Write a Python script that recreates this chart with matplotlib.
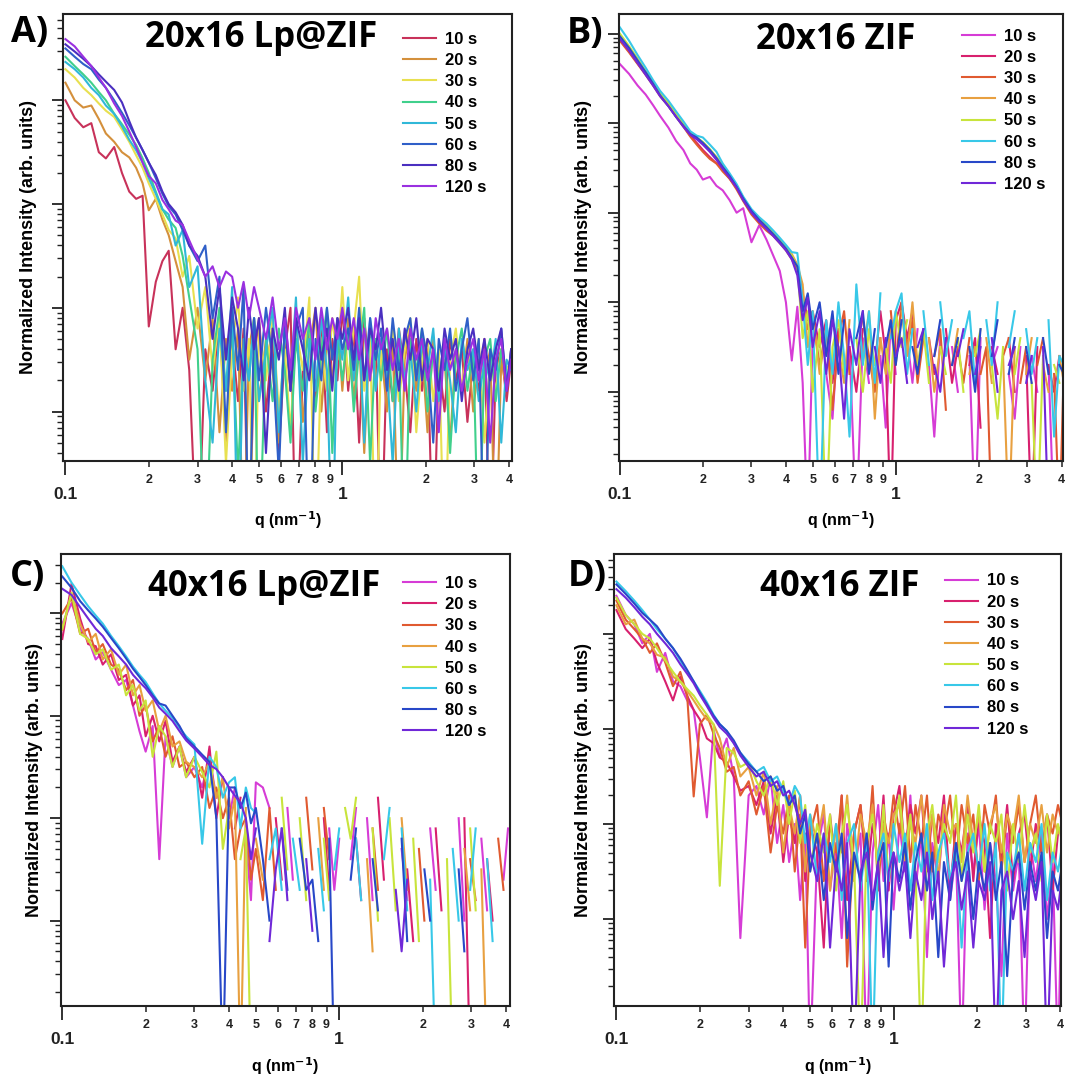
import numpy as np
import matplotlib
matplotlib.use("Agg")
import matplotlib.pyplot as plt
from matplotlib.ticker import FixedLocator, LogLocator, NullFormatter, FuncFormatter

plt.rcParams['font.family'] = ['Liberation Sans', 'DejaVu Sans']
plt.rcParams['font.weight'] = 'bold'
plt.rcParams['mathtext.default'] = 'bf'

# q grid (nm^-1)
q = [0.100, 0.108, 0.116, 0.124, 0.132, 0.140, 0.150, 0.160, 0.170, 0.180,
     0.190, 0.200, 0.212, 0.224, 0.236, 0.250, 0.265, 0.280, 0.300,
     0.32, 0.34, 0.36, 0.38, 0.40, 0.42, 0.44, 0.46, 0.48, 0.50, 0.53, 0.56,
     0.59, 0.62, 0.65, 0.68, 0.72, 0.76, 0.80, 0.84, 0.88, 0.92, 0.96, 1.00,
     1.05, 1.10, 1.15, 1.20, 1.26, 1.32, 1.38, 1.45, 1.52, 1.60, 1.68, 1.76,
     1.85, 1.94, 2.03, 2.13, 2.23, 2.34, 2.45, 2.57, 2.70, 2.83, 2.97, 3.11,
     3.26, 3.42, 3.58, 3.75, 3.92, 4.07]

times = ["10 s", "20 s", "30 s", "40 s", "50 s", "60 s", "80 s", "120 s"]

# log10 of normalized intensity, None = no point
# A) 20x16 Lp@ZIF
a10 = [3.00, 2.83, 2.74, 2.78, 2.50, 2.44, 2.55, 2.30, 2.12, 2.05, 2.08, 0.82, 1.25, 1.45, 1.55, 0.60, 1.00, 0.40, -1.5,
       0.6, 0.2, 0.9, -0.3, 0.7, 0.1, 0.8, -1.5, 0.5, 0.9, 0.0, 0.7, -0.4, 0.6, 1.0, -1.5, 0.4, 0.8, 0.1, 0.9, -0.2, 0.7, 0.3, 1.0,
       0.2, 0.8, -0.3, 0.9, 0.3, 0.7, -1.5, 0.6, 0.1, 0.8, 0.4, -0.2, 0.7, 0.2, 0.6, -1.5, 0.5, 0.0, 0.7, 0.3, 0.6, -0.1, 0.5, 0.2, 0.7, -1.5, 0.4, 0.6, 0.1, 0.5]
a20 = [3.17, 3.00, 2.93, 2.95, 2.82, 2.68, 2.60, 2.50, 2.45, 2.35, 2.20, 1.94, 2.05, 1.85, 1.70, 1.45, 1.20, 0.50, 1.00,
       0.3, 0.9, -0.2, 0.7, 0.2, 0.8, -1.5, 0.6, 0.9, 0.1, 0.7, 0.4, -0.3, 0.8, 0.2, 0.9, -0.1, 0.6, 1.0, 0.0, 0.7, 0.3, 0.9, 0.2,
       0.9, 0.1, 0.7, -0.4, 0.8, 0.3, 0.6, 0.0, 0.7, -1.5, 0.5, 0.8, 0.2, 0.6, -0.2, 0.7, 0.3, 0.5, -0.3, 0.6, 0.2, 0.7, 0.0, 0.5, 0.3, 0.6, -1.5, 0.5, 0.2, 0.6]
a30 = [3.30, 3.22, 3.12, 3.05, 2.97, 2.90, 2.84, 2.72, 2.60, 2.47, 2.35, 2.20, 2.05, 1.90, 1.75, 1.67, 1.30, 1.50, 0.80,
       1.2, 0.4, 0.9, -0.5, 0.6, 1.1, 0.2, 0.7, -1.5, 0.8, 0.3, 0.9, 0.0, 0.6, -0.2, 0.8, 0.4, 1.1, -1.5, 0.6, 0.2, 0.9, 0.5, 1.2,
       0.3, 0.8, 1.3, 0.2, 0.7, -1.5, 0.6, 0.3, 0.8, 0.1, 0.6, 0.9, -0.2, 0.5, 0.7, 0.1, 0.6, -1.5, 0.5, 0.8, 0.2, 0.6, 0.3, 0.7, -0.3, 0.5, 0.2, 0.6, 0.4, 0.5]
a40 = [3.42, 3.33, 3.25, 3.17, 3.08, 3.00, 2.87, 2.77, 2.67, 2.57, 2.44, 2.30, 2.12, 1.95, 1.85, 1.77, 1.50, 1.10, 0.60,
       -1.5, 0.5, 1.0, 0.2, 0.8, -0.6, 0.6, 0.3, 0.9, -1.5, 0.7, 0.1, 0.8, 0.4, -0.3, 0.7, 0.2, 0.9, 0.0, 0.6, 1.0, -0.4, 0.7, 0.3,
       0.8, 0.0, 0.6, 1.0, -0.5, 0.7, 0.3, 0.8, 0.1, 0.6, -1.5, 0.7, 0.4, 0.8, 0.0, 0.6, 0.3, 0.7, -0.4, 0.5, 0.8, 0.2, 0.6, -1.5, 0.5, 0.7, 0.1, 0.6, 0.3, 0.5]
a50 = [3.37, 3.30, 3.22, 3.12, 3.05, 2.95, 2.87, 2.75, 2.62, 2.52, 2.40, 2.25, 2.10, 1.95, 1.90, 1.60, 1.75, 1.20, 1.40,
       0.3, -0.3, 0.8, 0.2, 1.2, -1.5, 0.7, 0.3, 0.9, 0.1, 0.6, 1.0, -0.2, 0.8, 0.3, 1.1, -0.5, 0.7, 0.2, 0.9, 0.4, -1.5, 0.8, 0.5,
       1.1, 0.3, 0.8, -0.3, 0.9, 0.2, 0.7, 0.4, -0.5, 0.8, 0.3, 0.6, 0.0, 0.7, 0.4, 0.8, 0.1, 0.6, 0.3, -0.2, 0.7, 0.4, 0.6, 0.1, 0.5, 0.3, 0.7, -0.3, 0.5, 0.4]
a60 = [3.50, 3.42, 3.35, 3.30, 3.20, 3.12, 3.00, 2.88, 2.76, 2.64, 2.52, 2.40, 2.25, 2.10, 1.98, 1.90, 1.75, 1.60, 1.45,
       1.6, 0.9, 1.3, -0.2, 1.0, 0.4, 1.2, -1.5, 0.9, 0.3, 1.0, 0.5, -0.6, 0.9, 0.2, 0.8, 1.0, -1.5, 0.7, 0.3, 1.0, 0.5, 0.9, 0.6,
       0.8, 0.4, 1.0, 0.3, 0.9, 0.5, 0.8, 0.2, 0.9, 0.4, 0.7, 0.9, 0.3, 0.8, 0.5, -0.3, 0.7, 0.4, 0.8, 0.2, 0.6, 0.9, 0.3, 0.7, -1.5, 0.6, 0.4, 0.8, 0.2, 0.6]
a80 = [3.54, 3.47, 3.40, 3.33, 3.25, 3.18, 3.10, 2.98, 2.80, 2.64, 2.52, 2.40, 2.28, 2.12, 2.00, 1.92, 1.80, 1.60, 1.50,
       1.3, 0.7, 1.2, 0.5, 1.1, 0.8, 0.3, 1.0, 0.6, 0.9, -0.4, 0.8, 0.5, 1.0, 0.2, 0.9, 0.6, 0.3, 1.0, 0.5, 0.8, 0.2, 0.9, 0.7,
       1.0, 0.5, 0.9, 0.3, 0.8, 0.6, 1.0, 0.4, 0.7, 0.2, 0.8, 0.5, 0.9, 0.3, 0.7, 0.6, 0.2, 0.8, 0.5, 0.7, 0.1, 0.6, 0.8, 0.4, 0.7, 0.3, 0.6, 0.8, 0.2, 0.6]
a120 = [3.59, 3.52, 3.42, 3.33, 3.22, 3.12, 2.97, 2.85, 2.70, 2.55, 2.40, 2.27, 2.20, 2.04, 1.95, 1.84, 1.80, 1.65, 1.47,
        1.3, 1.4, 1.2, 1.35, 1.3, 1.0, 1.25, 0.9, 1.2, 1.0, 0.7, 1.1, 0.6, 0.9, 0.4, 1.0, 0.7, 0.9, 0.5, 1.0, 0.6, 0.9, 0.7, 1.0,
        0.6, 0.9, 0.5, 0.8, 0.3, 0.9, 0.6, 0.8, 0.4, 0.7, 0.2, 0.8, 0.5, 0.7, 0.3, 0.6, -0.2, 0.7, 0.4, 0.6, 0.2, 0.5, 0.7, 0.3, 0.6, -0.3, 0.5, 0.7, 0.2, 0.5]

# B) 20x16 ZIF
b10 = [3.66, 3.55, 3.42, 3.32, 3.20, 3.08, 2.95, 2.80, 2.70, 2.55, 2.48, 2.37, 2.40, 2.30, 2.25, 2.14, 2.00, 2.05, 1.67,
       1.86, 1.70, 1.52, 1.35, 1.00, 0.35, 0.95, 0.10, -1.5, 0.6, None, 0.2, -0.3, 0.7, None, 0.5, -1.5, 0.6, 0.1, None, 0.4, -0.4, 0.8, 0.2,
       None, 0.6, 0.1, 0.7, None, 0.3, -0.5, 0.6, None, 0.5, 0.0, None, 0.4, -1.5, 0.6, None, 0.3, 0.5, None, 0.2, -0.3, 0.5, None, 0.4, 0.0, None, 0.3, -1.5, None, 0.3]
b20 = [3.93, 3.80, 3.67, 3.55, 3.43, 3.31, 3.20, 3.08, 2.97, 2.86, 2.78, 2.70, 2.62, 2.55, 2.48, 2.38, 2.28, 2.15, 2.00,
       1.90, 1.82, 1.76, 1.68, 1.60, 1.50, 1.40, 1.10, 0.80, 0.90, 0.5, 0.8, 0.1, 0.7, None, 0.5, 0.0, 0.7, None, 0.3, 0.9, 0.4, -1.5, 0.8,
       1.0, 0.6, 0.9, 0.2, None, 0.6, 0.2, None, 0.7, 0.1, 0.5, None, 0.3, 0.6, -0.4, None, 0.5, 0.2, None, 0.6, 0.0, None, 0.4, -1.5, 0.5, None, 0.3, 0.0, 0.4, None]
b30 = [3.92, 3.79, 3.66, 3.54, 3.42, 3.30, 3.19, 3.07, 2.96, 2.85, 2.76, 2.68, 2.60, 2.55, 2.46, 2.38, 2.26, 2.13, 1.98,
       1.88, 1.80, 1.74, 1.66, 1.58, 1.48, 1.36, 1.00, 0.70, 0.85, 0.3, 0.7, -0.2, 0.6, 0.9, 0.2, None, 0.8, 0.4, 0.0, 0.6, None, 0.9, 0.3,
       1.0, 0.5, 0.8, 0.1, 0.6, None, 0.4, 0.7, -0.2, None, 0.5, 0.1, 0.6, None, 0.2, 0.5, -1.5, None, 0.4, 0.6, None, 0.1, 0.5, None, 0.3, 0.6, None, 0.2, -1.5, 0.3]
b40 = [3.98, 3.84, 3.70, 3.57, 3.45, 3.33, 3.22, 3.10, 2.99, 2.88, 2.83, 2.78, 2.70, 2.62, 2.52, 2.42, 2.30, 2.17, 2.02,
       1.92, 1.85, 1.78, 1.70, 1.62, 1.54, 1.42, 1.20, 0.50, 0.90, 0.2, 0.7, None, 0.5, 0.1, 0.8, None, 0.4, 0.9, -0.3, 0.6, 0.2, 0.8, None,
       0.9, 0.4, 1.0, 0.3, None, 0.6, 0.0, 0.5, None, 0.3, 0.7, None, 0.2, 0.5, None, 0.6, 0.1, None, 0.4, -1.5, 0.5, None, 0.2, 0.6, None, 0.3, 0.0, None, 0.4, 0.1]
b50 = [4.00, 3.86, 3.72, 3.58, 3.46, 3.34, 3.22, 3.10, 2.99, 2.88, 2.84, 2.79, 2.71, 2.62, 2.52, 2.42, 2.30, 2.16, 2.02,
       1.93, 1.86, 1.78, 1.70, 1.62, 1.52, 1.40, 0.60, 0.90, 0.0, 0.7, -1.5, 0.5, 0.8, 0.2, None, 0.6, 0.0, 0.7, 0.3, None, 0.5, 0.1, 0.9,
       0.5, 0.8, None, 0.3, 0.7, 0.1, None, 0.5, 0.2, None, 0.6, 0.0, None, 0.4, 0.7, None, 0.3, -0.3, 0.5, None, 0.2, 0.6, None, 0.1, -1.5, 0.4, None, 0.3, 0.1, None]
b60 = [4.07, 3.92, 3.76, 3.62, 3.48, 3.36, 3.25, 3.13, 3.02, 2.91, 2.86, 2.84, 2.76, 2.68, 2.55, 2.44, 2.32, 2.18, 2.04,
       1.95, 1.88, 1.80, 1.72, 1.64, 1.56, 1.55, 1.00, 0.30, 0.90, -1.5, 0.8, 0.2, 1.0, 0.4, -0.5, 1.2, 0.3, 0.9, 0.1, 1.1, None, 0.6, 0.9,
       1.1, 0.2, 0.7, None, 0.9, 0.3, None, 1.0, 0.4, 0.8, None, 0.6, 0.9, 0.1, None, 0.8, 0.3, 1.0, None, 0.5, 0.9, None, 0.7, 0.2, 0.6, None, 0.8, -0.5, 0.4, 0.3]
b80 = [3.97, 3.84, 3.70, 3.57, 3.44, 3.31, 3.19, 3.07, 2.97, 2.88, 2.84, 2.78, 2.70, 2.61, 2.51, 2.41, 2.29, 2.16, 2.02,
       1.92, 1.84, 1.76, 1.68, 1.60, 1.50, 1.40, 0.90, 1.10, 0.70, 1.0, 0.4, 0.9, 0.2, 0.8, None, 0.6, 0.9, 0.2, 0.7, None, 0.5, 0.8, 0.3,
       0.8, None, 0.5, 0.2, 0.7, None, 0.4, 0.8, None, 0.3, 0.6, None, 0.5, 0.0, 0.7, None, 0.4, 0.8, None, 0.2, 0.6, None, 0.5, 0.1, None, 0.6, 0.2, None, 0.3, 0.2]
b120 = [3.94, 3.81, 3.67, 3.54, 3.42, 3.30, 3.19, 3.07, 2.96, 2.87, 2.82, 2.76, 2.68, 2.59, 2.49, 2.39, 2.28, 2.14, 2.00,
        1.90, 1.82, 1.74, 1.66, 1.58, 1.48, 1.30, 0.80, 1.05, 0.50, 0.9, 0.2, 0.8, 0.5, -0.3, 0.7, 0.3, 0.9, None, 0.5, 0.1, 0.6, None, 0.4,
        0.6, 0.1, None, 0.5, 0.7, None, 0.3, 0.0, 0.6, None, 0.4, 0.7, None, 0.2, 0.5, None, 0.6, 0.0, None, 0.3, 0.5, None, 0.1, 0.4, None, 0.5, -1.5, None, 0.3, None]

# C) 40x16 Lp@ZIF
c10 = [2.90, 3.10, 2.85, 2.75, 2.55, 2.62, 2.45, 2.30, 2.35, 2.10, 1.85, 1.65, 1.90, 0.60, 1.80, 1.50, 1.70, 1.40, 1.50,
       1.30, 1.60, 1.20, None, 1.00, 1.30, None, 0.80, 0.2, 1.35, 1.30, 1.10, None, None, 1.1, 0.4, None, None, None, None, None, 0.9, 0.3, 0.8,
       None, 0.6, 1.1, None, 1.0, 0.2, None, None, None, None, 0.7, 0.2, None, None, None, 0.9, 0.3, None, None, None, 1.0, 0.0, None, None, 0.8, 0.1, None, None, 0.4, 0.9]
c20 = [2.75, 3.29, 2.95, 2.70, 2.68, 2.50, 2.60, 2.35, 2.40, 2.10, 2.20, 1.80, 2.00, 1.75, 1.95, 1.55, 1.70, 1.45, 1.60,
       1.20, 1.70, 1.00, 1.40, None, 0.9, 1.2, None, None, 0.5, None, None, 1.0, 0.4, None, None, None, None, 0.7, None, 1.0, 0.3, None, None,
       None, None, 0.8, 0.2, None, None, 1.2, 0.4, None, None, None, 0.5, -0.2, None, None, None, 0.9, 0.1, None, None, None, 1.0, -1.5, None, None, 0.6, 0.0, None, None, None]
c30 = [3.00, 3.15, 2.80, 2.85, 2.62, 2.70, 2.50, 2.45, 2.25, 2.35, 2.00, 2.10, 1.75, 1.90, 1.60, 1.80, 1.50, 1.55, 1.40,
       1.50, 1.10, 1.30, 1.00, 1.20, 0.60, 0.90, 1.00, 0.4, 0.7, 0.2, 1.1, 0.3, None, None, None, None, 1.2, 0.5, None, 1.1, 0.6, None, None,
       None, None, None, None, None, 0.9, 0.3, None, None, None, None, None, None, 0.7, 0.0, None, None, None, None, None, None, None, 0.6, 0.2, None, None, None, 0.8, 0.3, None]
c40 = [2.84, 3.20, 2.90, 2.72, 2.80, 2.55, 2.65, 2.40, 2.50, 2.20, 2.30, 2.05, 2.15, 1.85, 2.00, 1.70, 1.75, 1.55, 1.50,
       1.40, 1.55, 1.20, 1.40, 0.90, 1.20, -1.5, 1.10, None, 0.8, 0.4, None, None, 0.7, None, None, None, None, None, 1.0, 0.3, None, None, None,
       None, None, None, None, 0.6, -0.3, None, None, None, None, 1.0, 0.3, None, None, None, None, None, None, None, None, None, 0.7, 0.1, None, 0.5, -1.5, None, None, None, None]
c50 = [2.85, 3.20, 2.80, 2.75, 2.60, 2.65, 2.45, 2.50, 2.20, 2.30, 2.05, 2.15, 1.60, 1.90, 1.80, 1.50, 1.70, 1.40, 1.60,
       1.45, 1.30, 1.65, 0.70, 1.10, None, 0.6, 0.9, -1.5, None, None, None, None, 1.2, 0.5, None, 1.0, 0.2, None, None, 0.8, 0.2, None, None,
       1.1, 0.8, 1.2, None, None, 0.9, 0.0, None, 1.0, 0.1, None, None, 0.8, -0.2, None, None, None, None, 0.6, -1.5, None, None, 0.9, 0.1, None, None, None, None, None, None]
c60 = [3.46, 3.30, 3.18, 3.07, 2.98, 2.90, 2.78, 2.68, 2.58, 2.48, 2.40, 2.33, 2.22, 2.12, 2.05, 1.98, 1.88, 1.80, 1.72,
       0.75, 1.60, 1.50, 1.20, 1.35, 1.40, 0.90, 1.30, 1.10, 1.05, None, 0.6, 0.9, 0.3, None, 0.8, 0.3, None, None, 0.7, 0.1, None, 0.5, 0.9,
       None, None, 0.8, 0.2, None, None, None, 0.6, 1.1, None, 0.9, 0.1, None, None, None, 0.4, -1.5, None, None, 0.7, 0.0, None, 0.3, 0.9, None, 0.6, -0.2, None, None, None]
c80 = [3.36, 3.25, 3.12, 3.03, 2.95, 2.87, 2.76, 2.66, 2.56, 2.46, 2.38, 2.30, 2.20, 2.12, 2.10, 2.00, 1.90, 1.78, 1.70,
       1.62, 1.55, 1.00, -1.5, 1.30, 1.30, 1.10, 1.25, 0.95, 1.10, 0.6, 0.0, None, 0.9, 0.3, None, 0.8, 0.3, 0.4, -0.2, None, 0.8, -1.5, None,
       None, 0.4, 0.9, None, None, 0.6, 0.1, None, None, None, 0.8, -0.2, None, None, 0.5, 0.0, None, None, None, None, 0.5, -0.3, None, None, None, None, None, None, None, None]
c120 = [3.24, 3.18, 3.06, 2.95, 2.85, 2.78, 2.66, 2.58, 2.50, 2.40, 2.33, 2.27, 2.18, 2.08, 2.02, 1.95, 1.85, 1.76, 1.68,
        1.60, 1.52, 1.48, 1.40, 1.30, 1.22, 1.15, 1.00, 0.60, 0.9, None, -0.2, 0.5, 0.9, 0.2, None, None, 0.6, -0.1, None, None, None, None, None,
        None, None, None, None, None, None, None, None, None, 0.3, -0.3, 0.4, None, None, None, None, None, None, None, None, None, None, None, None, None, None, None, None, None, None]

# D) 40x16 ZIF
d10 = [3.40, 3.20, 3.10, 2.90, 3.00, 2.60, 2.80, 2.50, 2.45, 2.30, 2.20, 1.70, 1.07, 2.00, 1.70, 1.90, 1.50, -0.20, 1.30,
       1.40, 1.10, 1.50, 0.8, 1.2, 0.6, 1.0, 0.2, 0.9, -1.5, 0.7, 1.1, 0.3, 0.8, -0.2, 1.0, 0.5, 0.9, -1.5, 0.7, 1.2, 0.4, 0.9, 0.1,
       1.0, 0.5, 1.3, 0.3, 0.9, -0.4, 0.8, 0.4, 1.1, 0.2, 0.7, -1.5, 0.9, 0.5, 1.0, 0.1, 0.8, 0.4, -0.6, 0.9, 0.3, 0.7, -1.5, 0.8, 0.4, 0.9, 0.0, 0.6, -1.5, 0.7]
d20 = [3.25, 3.05, 2.95, 2.85, 2.95, 2.70, 2.50, 2.30, 2.55, 2.35, 2.20, 2.10, 1.90, 1.85, 1.70, 1.65, 1.50, 1.35, 1.40,
       1.20, 1.45, 0.90, 1.30, 0.6, 1.1, 0.8, 1.3, 0.4, 1.0, 0.7, -0.3, 1.1, 0.5, 1.3, 0.2, 0.9, 1.2, 0.4, 1.0, 0.6, 1.3, 0.3, 1.1,
       1.4, 0.7, 1.2, 0.9, 1.3, 0.5, 1.1, 0.8, 1.3, 0.3, 1.0, 0.7, 1.2, 0.4, 1.1, 0.8, -0.2, 1.0, 0.6, 1.2, 0.4, 0.9, 1.1, 0.5, 1.0, 0.7, 1.1, 0.3, 0.9, 1.0]
d30 = [3.35, 3.15, 3.05, 2.95, 2.80, 2.90, 2.70, 2.45, 2.60, 2.35, 1.29, 2.05, 2.15, 1.95, 1.80, 1.55, 1.60, 1.30, 1.45,
       1.10, 1.40, 0.70, 1.20, 0.90, 1.30, 0.5, 1.1, -0.3, 0.9, 1.2, 0.4, 1.0, 0.7, 1.3, -0.5, 0.9, 1.2, 0.6, 1.4, 0.3, 1.1, 0.8, 1.3,
       0.9, 1.4, 0.6, 1.2, 0.8, 1.3, 0.5, 1.1, 0.9, 1.3, 0.6, 1.2, 0.8, 1.1, 0.4, 1.2, 0.9, 1.3, 0.5, 1.1, 0.8, 1.2, 0.6, 1.0, 1.3, 0.7, 1.1, 0.9, 1.2, 1.0]
d40 = [3.30, 3.10, 3.15, 2.95, 2.90, 2.78, 2.75, 2.55, 2.50, 2.40, 2.30, 2.20, 2.10, 2.05, 1.90, 1.60, 1.80, 1.50, 1.60,
       1.30, 1.55, 1.00, 1.40, 0.70, 1.20, 0.9, 1.3, 0.5, 1.1, 0.8, 1.2, 0.3, 1.0, 0.7, 1.3, 0.4, 1.1, 0.8, 1.2, 0.5, 1.0, 0.8, 1.1,
       1.2, 0.6, 1.0, 0.8, 1.3, 0.7, 1.1, 0.4, 1.2, 0.9, 1.0, 0.6, 1.3, 0.8, 1.1, 0.5, 1.0, 1.2, 0.7, 1.1, 0.9, 1.3, 0.6, 1.0, 0.8, 1.2, 0.7, 1.1, 0.9, 1.0]
d50 = [3.38, 3.20, 3.10, 3.00, 2.95, 2.85, 2.72, 2.60, 2.50, 2.42, 2.35, 2.25, 2.15, 2.05, 0.35, 1.80, 1.75, 1.60, 1.65,
       1.45, 1.30, 1.50, 1.20, 1.45, 1.00, 1.35, 0.8, 1.2, 0.5, 1.0, 0.7, 1.1, 0.3, 0.9, 1.2, 0.6, -1.5, 0.8, 1.1, 0.5, 1.2, 0.4, 0.9,
       1.3, 0.7, 1.1, 0.5, -1.5, 0.9, 1.2, 0.6, 1.0, 0.8, 1.3, 0.4, 1.1, 0.7, 1.2, 0.5, 1.0, 0.8, 1.1, 0.3, 1.0, 0.6, 1.2, 0.7, 0.9, 0.4, 1.1, 0.6, 1.0, 0.8]
d60 = [3.55, 3.45, 3.35, 3.25, 3.15, 3.05, 2.95, 2.85, 2.72, 2.60, 2.50, 2.40, 2.28, 2.15, 2.05, 1.98, 1.85, 1.75, 1.65,
       1.55, 1.60, 1.45, 1.50, 1.35, 1.20, 1.40, 1.30, 0.8, 1.1, 0.4, 0.9, 0.6, 1.0, 0.2, 0.8, 1.0, 0.3, 0.9, -1.5, 0.7, 0.9, 0.4, 1.0,
       0.6, 0.9, 0.3, 0.8, 0.5, 1.0, 0.2, 0.7, 0.9, 0.4, 0.8, -0.3, 0.7, 0.9, 0.5, 1.0, 0.3, 0.8, -1.5, 0.7, 0.5, 0.9, 0.3, 0.8, 0.6, 1.0, 0.2, 0.7, 0.5, 0.8]
d80 = [3.52, 3.42, 3.32, 3.22, 3.15, 3.08, 2.95, 2.85, 2.74, 2.62, 2.50, 2.38, 2.26, 2.14, 2.05, 1.98, 1.88, 1.75, 1.63,
       1.55, 1.45, 1.50, 1.35, 1.40, 1.20, 1.30, 0.90, 1.10, 0.5, 0.9, 0.2, 0.8, 0.5, 0.9, -0.2, 0.7, 0.4, 0.9, 0.1, 0.6, 0.8, -0.5, 0.7,
       0.4, 0.8, 0.1, 0.6, 0.9, 0.3, 0.7, -0.4, 0.6, 0.2, 0.8, 0.4, 0.7, 0.0, 0.6, 0.3, 0.8, 0.2, 0.6, -0.6, 0.5, 0.7, 0.1, 0.6, 0.3, 0.7, -0.2, 0.5, 0.3, 0.6]
d120 = [3.47, 3.38, 3.28, 3.18, 3.10, 3.00, 2.90, 2.80, 2.68, 2.58, 2.48, 2.36, 2.24, 2.12, 2.02, 1.95, 1.85, 1.72, 1.60,
        1.50, 1.55, 1.40, 1.45, 1.30, 1.35, 1.20, 1.00, 1.15, 0.70, 0.40, 0.9, -0.3, 0.6, 0.3, 0.8, -1.5, 0.5, 0.7, 0.2, 0.6, -0.4, 0.5, 0.7,
        0.3, 0.6, -0.2, 0.5, 0.2, 0.7, 0.0, 0.5, -0.5, 0.4, 0.6, 0.1, 0.5, -0.3, 0.4, 0.2, 0.6, -1.5, 0.3, 0.5, 0.0, 0.4, -0.4, 0.5, 0.2, 0.6, -1.5, 0.3, 0.1, 0.5]

colors_a = ['#c8325a', '#d4903c', '#e8e050', '#40d08c', '#30b8d8', '#2f5fc8', '#4a2fc0', '#9a30e0']
colors_zif = ['#d63cd6', '#d8206e', '#e05a30', '#e8a040', '#c8e43c', '#38c8e8', '#2848c8', '#7028d8']

W, H = 1065, 1076
fig = plt.figure(figsize=(W / 100, H / 100), dpi=100)

# letter, title, series, colors, axes box in pixels (l, t, r, b), ylim exponents, xlim,
# title pos, legend anchor, letter pos (px), ylabel x, xlabel y
panels = [
    ("A)", "20x16 Lp@ZIF", [a10, a20, a30, a40, a50, a60, a80, a120], colors_a,
     (63, 13.5, 512, 461), (-0.477, 3.837), (0.098, 4.1), (0.441, 0.945), (0.757, 0.959), (30, 33), -0.059, -0.108),
    ("B)", "20x16 ZIF", [b10, b20, b30, b40, b50, b60, b80, b120], colors_zif,
     (618.5, 13.5, 1063, 461), (-0.772, 4.224), (0.0989, 4.04), (0.489, 0.941), (0.773, 0.966), (585, 34), -0.06, -0.108),
    ("C)", "40x16 Lp@ZIF", [c10, c20, c30, c40, c50, c60, c80, c120], colors_zif,
     (60.6, 554, 509.5, 1005.6), (-0.83, 3.58), (0.0986, 4.12), (0.453, 0.927), (0.763, 0.951), (28, 577), -0.039, -0.111),
    ("D)", "40x16 ZIF", [d10, d20, d30, d40, d50, d60, d80, d120], colors_zif,
     (614, 554, 1061, 1005.6), (-0.91, 3.84), (0.098, 4.02), (0.506, 0.927), (0.740, 0.957), (587, 577), -0.049, -0.11),
]

major_x = [0.1, 1]
minor_x = [0.2, 0.3, 0.4, 0.5, 0.6, 0.7, 0.8, 0.9, 2, 3, 4]

for letter, title, series, cols, box, ylim, xlim, tpos, lpos, letpos, ylx, xly in panels:
    l, t, r, b = box
    ax = fig.add_axes([l / W, 1 - b / H, (r - l) / W, (b - t) / H])
    for vals, c, lab in zip(series, cols, times):
        y = 10 ** np.array(vals, dtype=float)
        ax.plot(q, y, color=c, lw=1.5, label=lab)

    ax.set_xscale('log')
    ax.set_yscale('log')
    ax.set_xlim(*xlim)
    ax.set_ylim(10 ** ylim[0], 10 ** ylim[1])

    ax.xaxis.set_major_locator(FixedLocator(major_x))
    ax.xaxis.set_minor_locator(FixedLocator(minor_x))
    ax.xaxis.set_major_formatter(FuncFormatter(lambda v, p: "0.1" if v < 0.5 else "1"))
    ax.xaxis.set_minor_formatter(FuncFormatter(lambda v, p: str(int(round(v * 10))) if v < 1 else str(int(round(v)))))
    ax.yaxis.set_major_locator(LogLocator(base=10, numticks=20))
    ax.yaxis.set_minor_locator(LogLocator(base=10, subs=np.arange(2, 10), numticks=20))
    ax.yaxis.set_major_formatter(NullFormatter())
    ax.yaxis.set_minor_formatter(NullFormatter())

    ax.tick_params(axis='x', which='major', direction='out', length=10, width=1.3, pad=9, labelsize=12.5, colors='#222222')
    ax.tick_params(axis='x', which='minor', direction='out', length=4.5, width=1.1, pad=5, labelsize=9, colors='#222222')
    ax.tick_params(axis='y', which='major', direction='out', length=8, width=1.3, colors='#222222')
    ax.tick_params(axis='y', which='minor', direction='out', length=4, width=1.0, colors='#222222')
    for s in ax.spines.values():
        s.set_linewidth(1.5)
        s.set_color('#222222')

    ax.set_ylabel("Normalized Intensity (arb. units)", fontsize=13, fontweight='bold')
    ax.set_xlabel("q (nm$^{-1}$)", fontsize=11.5, fontweight='bold')
    ax.yaxis.set_label_coords(ylx, 0.5)
    ax.xaxis.set_label_coords(0.5, xly)

    ax.text(tpos[0], tpos[1], title, transform=ax.transAxes, ha='center', va='center',
            fontsize=25, fontweight='bold', family=['Open Sans', 'DejaVu Sans'])
    fig.text(letpos[0] / W, 1 - letpos[1] / H, letter, ha='center', va='center',
             fontsize=26, fontweight='bold', family=['Open Sans', 'DejaVu Sans'])

    ax.legend(loc='upper left', bbox_to_anchor=lpos, frameon=False, fontsize=12,
              handlelength=2.0, handletextpad=0.54, labelspacing=0.37,
              borderpad=0, borderaxespad=0)

fig.savefig("out.png", dpi=100)
